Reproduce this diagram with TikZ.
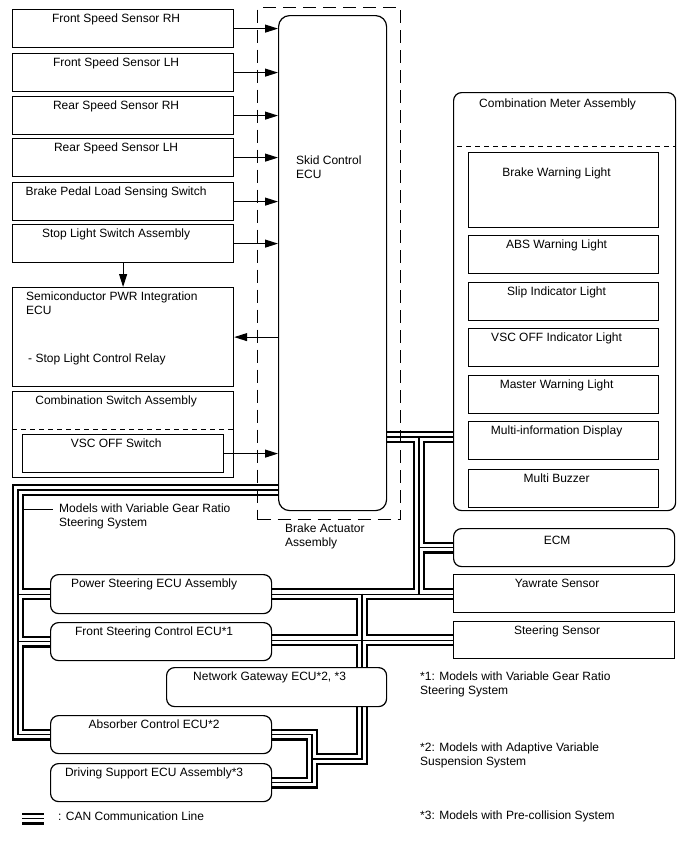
\documentclass[tikz,border=0pt]{standalone}
\usepackage{fontspec}
\setmainfont{Liberation Sans}
\usetikzlibrary{arrows.meta, backgrounds}

\begin{document}
\begin{tikzpicture}[
    x = 1pt, y = -1pt,
    font = \fontsize{12}{14}\selectfont,
    >={Triangle[length=13pt, width=8pt]},
    unitbox/.style = {
        rectangle, draw, line width = 1.2pt,
        anchor = north west, inner sep = 0pt,
        minimum width = 221pt, minimum height = 38pt
    },
    roundbox/.style = {unitbox, rounded corners = 8pt},
    light/.style = {unitbox, minimum width = 190pt},
    lbl/.style = {anchor = base, xshift = -7pt, yshift = -13pt, inner sep = 0pt},
    txt/.style = {anchor = north west, inner sep = 0pt, align = left},
    actframe/.style = {
        rectangle, draw, line width = 1.2pt, anchor = north west,
        inner sep = 0pt, dash pattern = on 13pt off 7pt
    },
    divider/.style = {line width = 1pt, dash pattern = on 5pt off 4pt},
    arrow/.style = {line width = 1pt, ->},
    leader/.style = {line width = 1pt},
    can/.style = {
        line width = 1.2pt,
        preaction = {draw, line width = 12pt},
        preaction = {draw, white, line width = 7.6pt}
    }
]
\useasboundingbox (0,0) rectangle (688,852);

% --- Sensors and switches (left column) ---
\node[unitbox, label={[lbl]north:Front Speed Sensor RH}]           (fsrh) at (12,   9) {};
\node[unitbox, label={[lbl]north:Front Speed Sensor LH}]           (fslh) at (12,  53) {};
\node[unitbox, label={[lbl]north:Rear Speed Sensor RH}]            (rsrh) at (12,  96) {};
\node[unitbox, label={[lbl]north:Rear Speed Sensor LH}]            (rslh) at (12, 138) {};
\node[unitbox, label={[lbl]north:Brake Pedal Load Sensing Switch}] (bpls) at (12, 182) {};
\node[unitbox, label={[lbl]north:Stop Light Switch Assembly}]      (stop) at (12, 224) {};

\node[unitbox, minimum height = 99pt] (semi) at (12, 287) {};
\node[txt] (semitext) at (26, 292)
    {Semiconductor PWR Integration\\ECU\\[34pt]\hspace*{2pt}- Stop Light Control Relay};

\node[unitbox, minimum height = 86pt,
      label={[lbl]north:Combination Switch Assembly}] (cswitch) at (12, 391) {};
\draw[divider] (cswitch.west |- 0,429) -- (cswitch.east |- 0,429);
\node[unitbox, minimum width = 201pt, label={[lbl]north:VSC OFF Switch}] (vscsw) at (22, 434) {};

% --- Brake actuator with skid control ECU ---
\node[actframe, minimum width = 143pt, minimum height = 512pt] (actuator) at (257, 7) {};
\node[roundbox, rounded corners = 11pt,
      minimum width = 108pt, minimum height = 495pt] (ecu) at (278, 15) {};
\node[txt] (ecutext) at (296, 156) {Skid Control\\ECU};
\node[txt] (acttext) at (285, 524) {Brake Actuator\\Assembly};

% --- Combination meter ---
\node[roundbox, minimum width = 222pt, minimum height = 418pt,
      label={[lbl, yshift=-2pt]north:Combination Meter Assembly}] (meter) at (453, 92) {};
\draw[divider] ([xshift=4pt]meter.west |- 0,146) -- (meter.east |- 0,146);
\node[light, minimum height = 75pt,
      label={[lbl, yshift=-11pt]north:Brake Warning Light}] (bwl)    at (468, 152) {};
\node[light, label={[lbl]north:ABS Warning Light}]         (abswl)  at (468, 235) {};
\node[light, label={[lbl]north:Slip Indicator Light}]      (slip)   at (468, 282) {};
\node[light, label={[lbl]north:VSC OFF Indicator Light}]   (vscind) at (468, 328) {};
\node[light, label={[lbl]north:Master Warning Light}]      (mwl)    at (468, 375) {};
\node[light, label={[lbl]north:Multi-information Display}] (mid)    at (468, 421) {};
\node[light, label={[lbl]north:Multi Buzzer}]              (buzzer) at (468, 469) {};

% --- Other CAN units ---
\node[roundbox, label={[lbl, yshift=-3pt]north:ECM}] (ecm) at (453, 528) {};
\node[unitbox, label={[lbl]north:Yawrate Sensor}] (yaw) at (453, 574) {};
\node[unitbox, minimum height = 37pt, label={[lbl]north:Steering Sensor}] (steer) at (453, 621) {};

\node[roundbox, minimum height = 39pt,
      label={[lbl]north:Power Steering ECU Assembly}] (pseps) at (50, 574) {};
\node[roundbox, label={[lbl]north:Front Steering Control ECU*1}] (fsc) at (50, 622) {};
\node[roundbox, minimum width = 220pt, minimum height = 39pt,
      label={[lbl]north:{Network Gateway ECU*2, *3}}] (ng) at (166, 667) {};
\node[roundbox, label={[lbl]north:Absorber Control ECU*2}] (absorb) at (50, 715) {};
\node[roundbox, label={[lbl]north:Driving Support ECU Assembly*3}] (drive) at (50, 763) {};

% --- Notes and legend ---
\node[txt] (vgrs) at (59, 504) {Models with Variable Gear Ratio\\Steering System};
\coordinate (vgrsend) at (24, 509);
\draw[leader] (vgrsend) -- ([xshift=-6pt]vgrs.west |- vgrsend);

\node[txt] (note1) at (420, 672) {*1: Models with Variable Gear Ratio\\Steering System};
\node[txt] (note2) at (420, 743) {*2: Models with Adaptive Variable\\Suspension System};
\node[txt] (note3) at (420, 811) {*3: Models with Pre-collision System};

\coordinate (legend) at (22, 818.5);
\draw[can] (legend) -- ++(22,0);
\node[txt] (legendtext) at (58, 812) {: CAN Communication Line};

% --- Signal arrows ---
\draw[arrow] (fsrh.east) -- (fsrh.east -| ecu.west);
\draw[arrow] (fslh.east) -- (fslh.east -| ecu.west);
\draw[arrow] (rsrh.east) -- (rsrh.east -| ecu.west);
\draw[arrow] (rslh.east) -- (rslh.east -| ecu.west);
\draw[arrow] (bpls.east) -- (bpls.east -| ecu.west);
\draw[arrow] (stop.east) -- (stop.east -| ecu.west);
\draw[arrow] (stop) -- (semi);
\draw[arrow] (semi.east -| ecu.west) -- (semi.east);
\draw[arrow] (vscsw.east) -- (vscsw.east -| ecu.west);

% --- CAN communication lines ---
\coordinate (lbus) at (18, 490);
\coordinate (mbus) at (419, 437);
\coordinate (gbus) at (362, 593.5);
\coordinate (sbus) at (312, 759);

\begin{pgfonlayer}{background}
\draw[can]
    (ecu.west |- lbus) -- (lbus) |- (absorb.west)
    (lbus |- pseps.west) -- (pseps.west)
    (lbus |- fsc.west) -- (fsc.west)
    (ecu.east |- mbus) -- (meter.west |- mbus)
    (mbus) -- (mbus |- pseps.east)
    (mbus |- ecm.west) -- (ecm.west)
    (pseps.east) -- (pseps.east -| yaw.west)
    (gbus) -- (gbus |- ng.north)
    (steer.west -| fsc.east) -- (steer.west)
    (gbus |- ng.south) |- (sbus)
    (absorb.east) -| (sbus) |- (drive.east);
\end{pgfonlayer}

\end{tikzpicture}
\end{document}
